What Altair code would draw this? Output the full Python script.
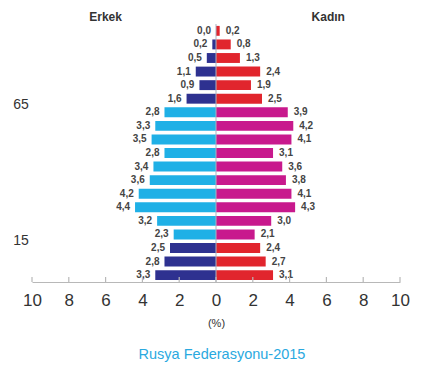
import altair as alt
import pandas as pd

ages = ["90+", "85-89", "80-84", "75-79", "70-74", "65-69",
        "60-64", "55-59", "50-54", "45-49", "40-44", "35-39", "30-34", "25-29", "20-24", "15-19",
        "10-14", "5-9", "0-4"]
male = [0.0, 0.2, 0.5, 1.1, 0.9, 1.6,
        2.8, 3.3, 3.5, 2.8, 3.4, 3.6, 4.2, 4.4, 3.2, 2.3,
        2.5, 2.8, 3.3]
female = [0.2, 0.8, 1.3, 2.4, 1.9, 2.5,
          3.9, 4.2, 4.1, 3.1, 3.6, 3.8, 4.1, 4.3, 3.0, 2.1,
          2.4, 2.7, 3.1]
groups = ["65+"] * 6 + ["15-64"] * 10 + ["0-14"] * 3
tick_vals = [-10, -8, -6, -4, -2, 0, 2, 4, 6, 8, 10]

rows = []
for a, m, f, g in zip(ages, male, female, groups):
    rows.append({"age": a, "sex": "Erkek", "value": -m, "label": f"{m:.1f}".replace(".", ","),
                 "key": "E" + g})
    rows.append({"age": a, "sex": "Kadın", "value": f, "label": f"{f:.1f}".replace(".", ","),
                 "key": "K" + g})
df = pd.DataFrame(rows)

color = alt.Color("key:N", legend=None, scale=alt.Scale(
    domain=["E65+", "E15-64", "E0-14", "K65+", "K15-64", "K0-14"],
    range=["#2e3190", "#1fb0e6", "#2e3190", "#e1252d", "#c8198d", "#e1252d"]))

W, H = 368, 258
xs = alt.Scale(domain=[-10, 10], nice=False)
ys = alt.Scale(domain=ages, paddingInner=0.27, paddingOuter=0.14)
xa = alt.Axis(
    values=tick_vals, labelExpr="abs(datum.value)", labelFontSize=17, labelColor="#333",
    labelFont="Liberation Sans", ticks=False, domainColor="#b8b8b8", domainWidth=1.2,
    labelOverlap=False, labelFlush=False, labelBound=False,
    grid=False, labelPadding=10, title="(%)", titleFontSize=11, titleFontWeight="normal",
    titleColor="#333", titlePadding=9, titleFont="Liberation Sans")


def X(field):
    return alt.X(field, scale=xs, axis=xa)


base = alt.Chart(df)
bars = base.mark_bar().encode(
    x=X("value:Q"),
    y=alt.Y("age:N", scale=ys, axis=None),
    color=color,
)

txt_m = base.transform_filter("datum.sex == 'Erkek'").mark_text(
    align="right", dx=-5, fontSize=10, color="#444", font="Liberation Sans", fontWeight="bold").encode(
    x=X("value:Q"), y=alt.Y("age:N", scale=ys, axis=None), text="label:N")
txt_f = base.transform_filter("datum.sex == 'Kadın'").mark_text(
    align="left", dx=6, fontSize=10, color="#444", font="Liberation Sans", fontWeight="bold").encode(
    x=X("value:Q"), y=alt.Y("age:N", scale=ys, axis=None), text="label:N")

ticks = alt.Chart(pd.DataFrame({"value": tick_vals})).mark_rule(color="#b8b8b8", strokeWidth=1.2).encode(
    x=X("value:Q"), y=alt.value(H - 5), y2=alt.value(H))

zero = alt.Chart(pd.DataFrame({"value": [0]})).mark_rule(color="#a9b4c2", strokeWidth=1).encode(
    x=X("value:Q"), y=alt.value(0), y2=alt.value(H))

heads = alt.Chart(pd.DataFrame({"value": [-6.0, 6.1], "t": ["Erkek", "Kadın"]})).mark_text(
    fontSize=12, fontWeight="bold", color="#333", font="Liberation Sans", baseline="middle").encode(
    x=X("value:Q"), y=alt.value(-7), text="t:N")

agelab = alt.Chart(pd.DataFrame({"a": ["60-64", "10-14"], "t": ["65", "15"]})).mark_text(
    fontSize=14, color="#333", font="Liberation Sans", dy=-7, align="center", baseline="middle").encode(
    x=alt.value(-11), y=alt.Y("a:N", scale=ys, axis=None), text="t:N")

title = alt.Chart(pd.DataFrame({"t": ["Rusya Federasyonu-2015"]})).mark_text(
    fontSize=14.5, color="#2aa9df", font="Liberation Sans", align="center", baseline="middle").encode(
    x=alt.value(W / 2 + 6), y=alt.value(331), text="t:N")

chart = alt.layer(bars, zero, txt_m, txt_f, ticks, heads, agelab, title).properties(
    width=W, height=H,
    autosize=alt.AutoSizeParams(type="none"),
    padding={"left": 32, "top": 24, "right": 24, "bottom": 94},
).configure_view(stroke=None).configure_axis(
    labelOverlap=False, labelFlush=False, labelBound=False)

chart.save("out.html", embed_options={"renderer": "svg", "actions": False})
